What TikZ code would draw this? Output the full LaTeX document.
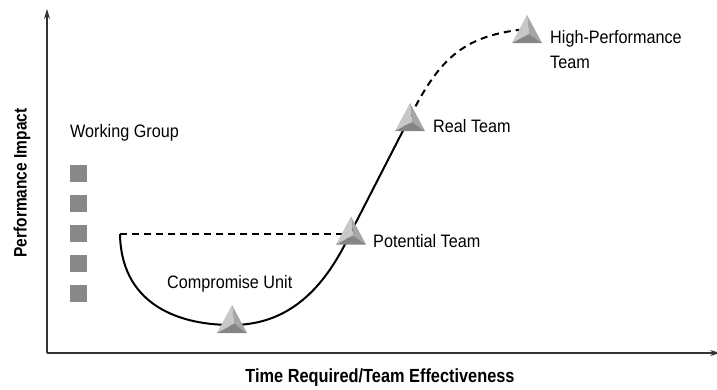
\documentclass[tikz,border=0pt]{standalone}
\usepackage{fontspec}
\setmainfont[FakeStretch=0.9]{Liberation Sans}
\newfontfamily\axisfont[FakeStretch=0.86]{Liberation Sans}
\usetikzlibrary{arrows.meta}
\definecolor{facelight}{HTML}{C8C8C8}
\definecolor{facemid}{HTML}{A6A6A6}
\definecolor{facedark}{HTML}{858585}
\definecolor{sqgrey}{HTML}{888888}
\definecolor{axisgrey}{HTML}{333333}
\tikzset{
  lab/.style={anchor=base west, inner sep=0pt, font=\fontsize{18}{21}\selectfont},
  axislab/.style={inner sep=0pt, font=\axisfont\bfseries\fontsize{19}{22}\selectfont},
  axisline/.style={draw=axisgrey, line width=1.1pt, -{Stealth[length=10pt,width=6pt]}},
  curveline/.style={line width=2pt, black},
  dashline/.style={line width=2pt, black, dash pattern=on 7pt off 5pt},
  sq/.style={fill=sqgrey, minimum size=17pt, inner sep=0pt, anchor=north west},
  pyramid/.pic={
    \fill[facelight] (0,-14) -- (-15,14) -- (2,5) -- cycle;
    \fill[facemid] (0,-14) -- (2,5) -- (15,14) -- cycle;
    \fill[facedark] (-15,14) -- (15,14) -- (2,5) -- cycle;
  }
}
\begin{document}
\begin{tikzpicture}[x=1pt,y=-1pt]
\useasboundingbox (0,0) rectangle (717,389);
% axes
\coordinate (origin) at (47,353);
\coordinate (ytip) at (47,9);
\coordinate (xtip) at (720,353);
\draw[axisline] (origin) -- (ytip);
\draw[axisline] (origin) -- (xtip);
\node[axislab, rotate=90, font=\axisfont\bfseries\fontsize{18}{21}\selectfont] (ylab) at (22,183) {Performance Impact};
\node[axislab] (xlab) at (380,378) {Time Required/Team Effectiveness};
% working group
\node[lab] (wg) at (70,137) {Working Group};
\foreach \i/\y in {1/165,2/195,3/225,4/255,5/285}
  \node[sq] (s\i) at (70,\y) {};
% key points
\coordinate (start) at (120,234);
\coordinate (cu) at (232,319);
\coordinate (pt) at (351,230.5);
\coordinate (rt) at (410,117);
\coordinate (hp) at (527,29);
% curves
\draw[dashline] (start) -- (pt |- start);
\draw[curveline] (start) .. controls (121,300) and (172,325) .. (232,325)
   .. controls (292,325) and (327,284) .. (351,232) -- (410,117);
\draw[dashline] (rt) .. controls (440,57) and (465,35) .. (hp);
% pyramids
\pic at (cu) {pyramid};
\pic at (pt) {pyramid};
\pic at (rt) {pyramid};
\pic at (hp) {pyramid};
% labels
\node[lab] (cul) at (167,288) {Compromise Unit};
\node[lab] (ptl) at (373,247) {Potential Team};
\node[lab] (rtl) at (433,132) {Real Team};
\node[lab] (hpl) at (550,43) {High-Performance};
\node[lab] (hpl2) at (550,68) {Team};
\end{tikzpicture}
\end{document}
